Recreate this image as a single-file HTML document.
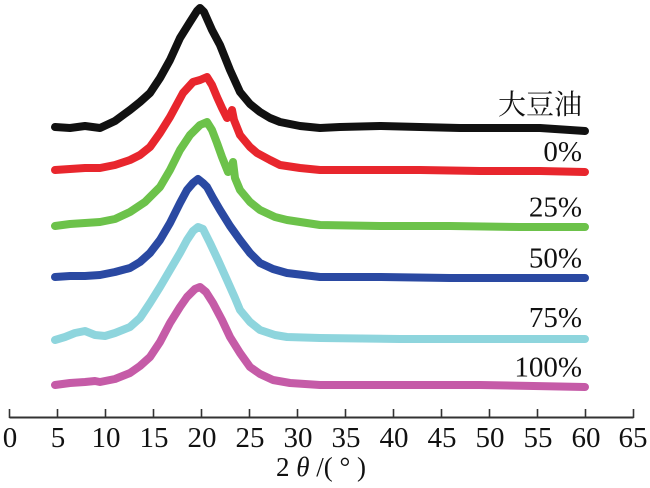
<!DOCTYPE html>
<html><head><meta charset="utf-8"><style>
html,body{margin:0;padding:0;background:#fff;}
svg{display:block;}
.s{font-family:"Liberation Serif","Times New Roman",Times,"DejaVu Serif","Noto Serif CJK SC",serif;}
</style></head><body>
<svg width="650" height="488" viewBox="0 0 650 488" xmlns="http://www.w3.org/2000/svg">
<g fill="none" stroke-width="8" stroke-linejoin="round" stroke-linecap="round">
<polyline stroke="#111111" points="55,127 70,128 85,126 100,128 115,121 130,110 140,102 150,93 160,78 170,60 180,38 190,22 197,11 200,8 204,12 212,30 220,45 230,70 240,92 250,104 260,112 270,118 280,122 300,126 320,128 340,127 380,126 420,127 460,128 500,128 540,128 585,131"/>
<polyline stroke="#e8262d" points="55,170 70,169 85,168 100,168 115,165 130,160 140,155 150,147 160,133 170,117 183,93 193,82 200,80 207,77 212,85 217,97 222,108 227,118 230,116 232,110 234,120 240,135 250,147 257,153 270,160 280,165 300,168 320,170 360,170 420,170 480,171 540,171 585,172"/>
<polyline stroke="#6cc24a" points="55,226 70,224 85,223 100,222 115,219 130,212 145,202 160,187 170,170 180,150 190,135 200,125 207,122 212,130 217,143 222,157 228,172 231,169 233,162 235,178 240,190 250,202 260,210 275,217 287,220 320,225 380,226 450,226 520,227 585,227"/>
<polyline stroke="#2a49a2" points="55,277 70,276 85,276 100,275 115,272 130,268 140,262 150,253 160,240 170,223 180,203 187,190 193,183 198,179 203,183 207,187 213,198 220,210 230,226 240,240 250,253 260,263 273,269 287,273 320,277 380,277 450,278 520,278 585,278"/>
<polyline stroke="#8ed5dd" points="55,340 65,337 75,333 85,331 95,335 105,336 115,333 130,327 140,318 150,303 160,287 170,270 180,253 187,240 193,231 198,227 203,229 210,243 218,260 227,280 235,298 240,310 250,322 260,330 275,335 287,337 320,338 400,339 480,339 585,339"/>
<polyline stroke="#c55ba7" points="55,385 70,383 85,382 95,381 100,382 115,379 130,373 140,366 150,357 160,342 170,323 180,307 187,297 195,289 200,287 206,292 213,303 222,320 230,337 240,353 250,367 260,374 273,380 290,383 320,385 400,385 480,385 585,387"/>
</g>
<g stroke="#333" stroke-width="1.6">
<line x1="9.5" y1="417.5" x2="633.5" y2="417.5" stroke-width="2"/>
<line x1="9.5" y1="409" x2="9.5" y2="418"/>
<line x1="57.5" y1="409" x2="57.5" y2="418"/>
<line x1="105.5" y1="409" x2="105.5" y2="418"/>
<line x1="153.5" y1="409" x2="153.5" y2="418"/>
<line x1="201.5" y1="409" x2="201.5" y2="418"/>
<line x1="249.5" y1="409" x2="249.5" y2="418"/>
<line x1="297.5" y1="409" x2="297.5" y2="418"/>
<line x1="345.5" y1="409" x2="345.5" y2="418"/>
<line x1="393.5" y1="409" x2="393.5" y2="418"/>
<line x1="441.5" y1="409" x2="441.5" y2="418"/>
<line x1="489.5" y1="409" x2="489.5" y2="418"/>
<line x1="537.5" y1="409" x2="537.5" y2="418"/>
<line x1="585.5" y1="409" x2="585.5" y2="418"/>
<line x1="633.5" y1="409" x2="633.5" y2="418"/>
</g>
<g class="s" font-family="Liberation Serif, Times New Roman, DejaVu Serif, serif" font-size="29" fill="#111" text-anchor="middle">
<text class="s" x="10" y="447">0</text>
<text class="s" x="58" y="447">5</text>
<text class="s" x="106" y="447">10</text>
<text class="s" x="154" y="447">15</text>
<text class="s" x="202" y="447">20</text>
<text class="s" x="250" y="447">25</text>
<text class="s" x="298" y="447">30</text>
<text class="s" x="346" y="447">35</text>
<text class="s" x="394" y="447">40</text>
<text class="s" x="442" y="447">45</text>
<text class="s" x="490" y="447">50</text>
<text class="s" x="538" y="447">55</text>
<text class="s" x="586" y="447">60</text>
<text class="s" x="633" y="447">65</text>
</g>
<text class="s" x="321" y="476" font-family="Liberation Serif, Times New Roman, DejaVu Serif, serif" font-size="27" fill="#111" text-anchor="middle">2 <tspan font-style="italic">θ</tspan> /( ° )</text>
<g class="s" font-family="Liberation Serif, Times New Roman, DejaVu Serif, serif" font-size="29" fill="#111" text-anchor="end">
<text x="582" y="114" font-family="Noto Serif CJK SC, serif" font-size="28" style="font-family:'Noto Serif CJK SC',serif">大豆油</text>
<text class="s" x="582" y="161">0%</text>
<text class="s" x="582" y="216.5">25%</text>
<text class="s" x="582" y="267.5">50%</text>
<text class="s" x="582" y="327">75%</text>
<text class="s" x="582" y="376.5">100%</text>
</g>
</svg>
</body></html>
